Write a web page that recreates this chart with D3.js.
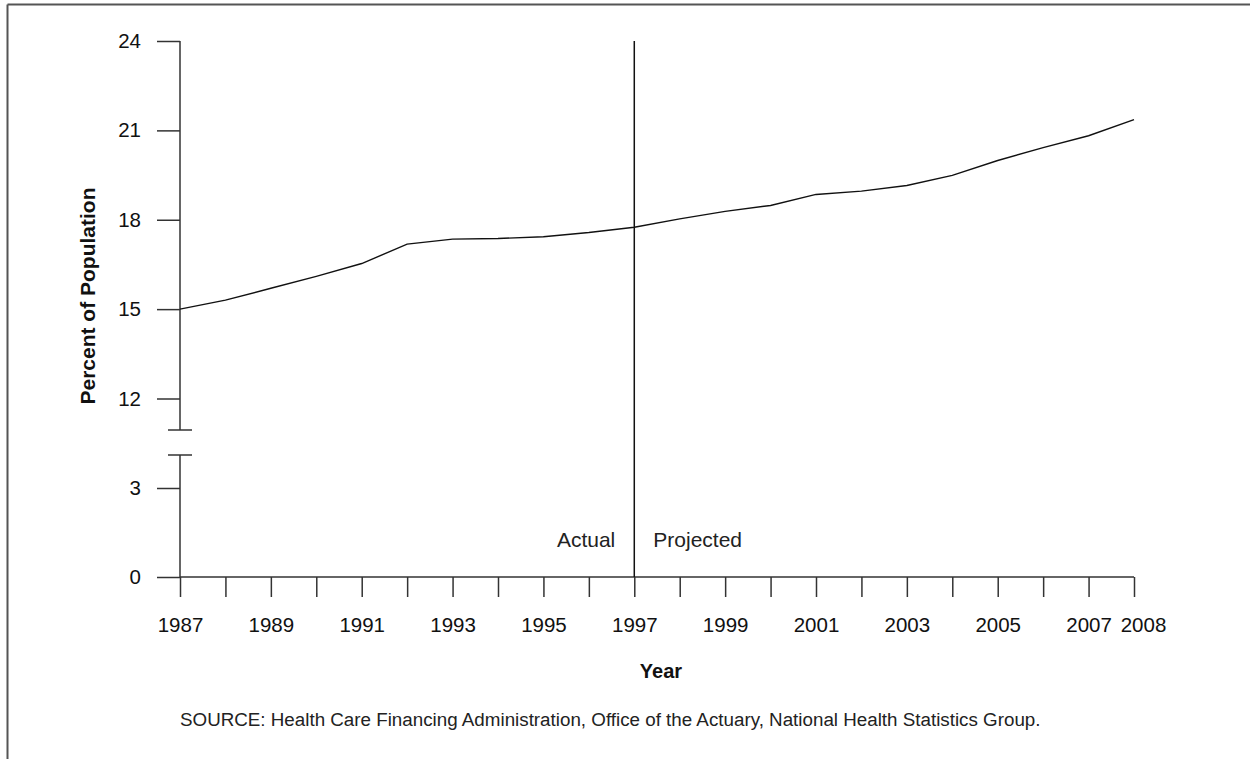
<!DOCTYPE html>
<html>
<head>
<meta charset="utf-8">
<script src="https://cdn.jsdelivr.net/npm/d3@7"></script>
<style>
  html, body { margin: 0; padding: 0; background: #fff; }
  svg { display: block; font-family: "Liberation Sans", Arial, sans-serif; }
</style>
</head>
<body>
<svg id="chart" width="1250" height="759"></svg>
<script>
// ---- data ----
const years = [1987,1988,1989,1990,1991,1992,1993,1994,1995,1996,1997,1998,1999,2000,2001,2002,2003,2004,2005,2006,2007,2008];
const percent = [15.0,15.3,15.7,16.1,16.53,17.18,17.35,17.37,17.43,17.57,17.75,18.03,18.28,18.48,18.85,18.96,19.15,19.49,19.99,20.42,20.82,21.36];
const xLabelYears = [1987,1989,1991,1993,1995,1997,1999,2001,2003,2005,2007,2008];
const yTicksUpper = [12,15,18,21,24];
const yTicksLower = [0,3];
const splitYear = 1997;
const labels = { y: "Percent of Population", x: "Year", left: "Actual", right: "Projected",
  source: "SOURCE: Health Care Financing Administration, Office of the Actuary, National Health Statistics Group." };

// ---- layout ----
const svg = d3.select("#chart");
const axisColor = "#333";
const fontFam = "'Liberation Sans', Arial, sans-serif";

// frame (top and left edges visible)
svg.append("line").attr("x1", 7.5).attr("x2", 1250).attr("y1", 4.5).attr("y2", 4.5)
  .attr("stroke", "#555").attr("stroke-width", 2);
svg.append("line").attr("x1", 7.5).attr("x2", 7.5).attr("y1", 4.5).attr("y2", 759)
  .attr("stroke", "#555").attr("stroke-width", 2);

const x = d3.scaleLinear().domain([1987, 2008]).range([180, 1134]);
const yUp = d3.scaleLinear().domain([12, 24]).range([398.5, 41]);
const yLow = d3.scaleLinear().domain([0, 3]).range([577, 488]);
const breakTop = 430, breakBottom = 455;

// y axis upper
const gUp = svg.append("g").attr("transform", "translate(180,0)")
  .call(d3.axisLeft(yUp).tickValues(yTicksUpper).tickSize(23).tickPadding(16).tickFormat(d3.format("d")));
gUp.select(".domain").remove();
svg.append("line").attr("x1", 180).attr("x2", 180).attr("y1", yUp(24)).attr("y2", breakTop)
  .attr("stroke", axisColor).attr("stroke-width", 1.5);

// y axis lower
const gLow = svg.append("g").attr("transform", "translate(180,0)")
  .call(d3.axisLeft(yLow).tickValues(yTicksLower).tickSize(23).tickPadding(16).tickFormat(d3.format("d")));
gLow.select(".domain").remove();
svg.append("line").attr("x1", 180).attr("x2", 180).attr("y1", breakBottom).attr("y2", yLow(0))
  .attr("stroke", axisColor).attr("stroke-width", 1.5);

// break marks
[breakTop, breakBottom].forEach(yy => {
  svg.append("line").attr("x1", 168).attr("x2", 192).attr("y1", yy).attr("y2", yy)
    .attr("stroke", axisColor).attr("stroke-width", 1.5);
});

// x axis
const gx = svg.append("g").attr("transform", `translate(0,${yLow(0)})`)
  .call(d3.axisBottom(x).tickValues(years).tickSize(20).tickPadding(20)
    .tickFormat(d => xLabelYears.includes(d) ? String(d) : ""));
gx.select(".domain").attr("d", `M${x(1987)},0H${x(2008)}`);
gx.selectAll(".tick text").filter(d => d === 2008).attr("dx", 9);

svg.selectAll(".tick text").attr("font-size", 20.5).attr("fill", "#111")
  .attr("font-family", fontFam);
svg.selectAll(".tick line").attr("stroke", axisColor).attr("stroke-width", 1.5);
svg.selectAll(".domain").attr("stroke", axisColor).attr("stroke-width", 1.5);

// 1997 divider
svg.append("line").attr("x1", x(splitYear)).attr("x2", x(splitYear))
  .attr("y1", yUp(24)).attr("y2", yLow(0))
  .attr("stroke", "#111").attr("stroke-width", 1.5);

svg.append("text").attr("x", x(splitYear) - 19).attr("y", 547).attr("text-anchor", "end")
  .attr("font-size", 21).attr("fill", "#222").text(labels.left);
svg.append("text").attr("x", x(splitYear) + 19).attr("y", 547).attr("text-anchor", "start")
  .attr("font-size", 21).attr("fill", "#222").text(labels.right);

// data line
const line = d3.line().x((d, i) => x(years[i])).y(d => yUp(d));
svg.append("path").datum(percent).attr("d", line)
  .attr("fill", "none").attr("stroke", "#111").attr("stroke-width", 1.4);

// axis titles
svg.append("text").attr("transform", "translate(95,296) rotate(-90)")
  .attr("text-anchor", "middle").attr("font-size", 21).attr("font-weight", "bold")
  .attr("fill", "#111").text(labels.y);
svg.append("text").attr("x", 661).attr("y", 678).attr("text-anchor", "middle")
  .attr("font-size", 20).attr("font-weight", "bold").attr("fill", "#111").text(labels.x);

// source
svg.append("text").attr("x", 180).attr("y", 726).attr("text-anchor", "start")
  .attr("font-size", 18.8).attr("fill", "#222").text(labels.source);
</script>
</body>
</html>
